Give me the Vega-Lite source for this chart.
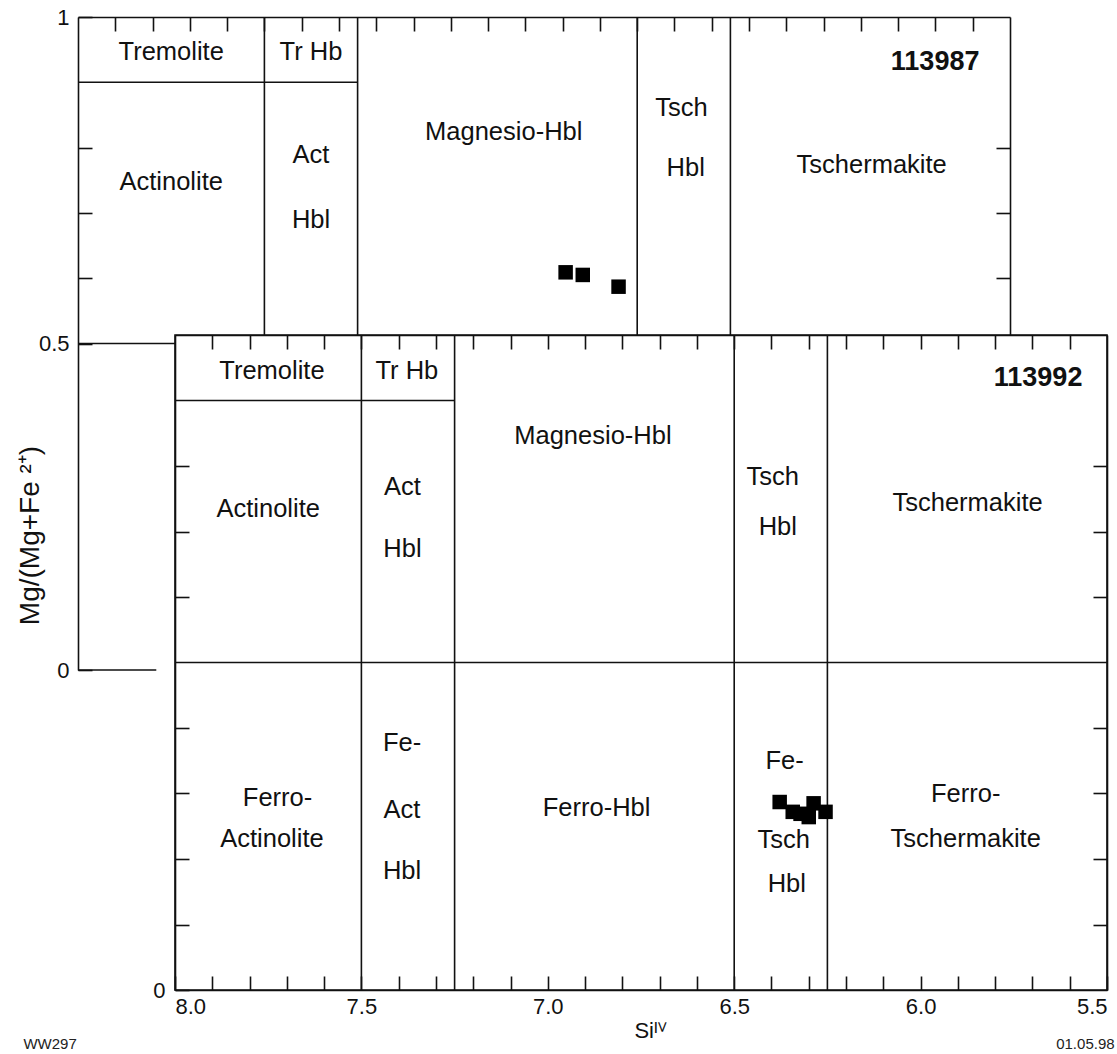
{
  "$schema": "https://vega.github.io/schema/vega-lite/v6.json",
  "width": 1029,
  "height": 973,
  "autosize": {"type": "none"},
  "padding": {"left": 78, "top": 17, "right": 10, "bottom": 64},
  "background": "white",
  "config": {
    "view": {"stroke": null},
    "font": "Liberation Sans",
    "axis": {
      "grid": false,
      "domainColor": "#111",
      "tickColor": "#111",
      "domainWidth": 1.6,
      "tickWidth": 1.6,
      "labelColor": "#111",
      "titleColor": "#111",
      "labelFont": "Liberation Sans",
      "titleFont": "Liberation Sans",
      "labelFontSize": 22,
      "titleFontSize": 22,
      "titleFontWeight": "normal",
      "tickSize": -14,
      "labelOverlap": false
    }
  },
  "datasets": {
    "backLines": [
      {"si": 8, "si2": 7.79, "mg": 0, "mg2": 0},
      {"si": 8, "si2": 7.25, "mg": 0.9, "mg2": 0.9},
      {"si": 8, "si2": 5.5, "mg": 0.5, "mg2": 0.5},
      {"si": 7.5, "si2": 7.5, "mg": 0, "mg2": 1},
      {"si": 7.25, "si2": 7.25, "mg": 0, "mg2": 1},
      {"si": 6.5, "si2": 6.5, "mg": 0, "mg2": 1},
      {"si": 6.25, "si2": 6.25, "mg": 0, "mg2": 1}
    ],
    "frontFrame": [{"si": 8, "si2": 5.5, "mg": 0, "mg2": 1}],
    "frontLines": [
      {"si": 8, "si2": 7.25, "mg": 0.9, "mg2": 0.9},
      {"si": 8, "si2": 5.5, "mg": 0.5, "mg2": 0.5},
      {"si": 7.5, "si2": 7.5, "mg": 0, "mg2": 1},
      {"si": 7.25, "si2": 7.25, "mg": 0, "mg2": 1},
      {"si": 6.5, "si2": 6.5, "mg": 0, "mg2": 1},
      {"si": 6.25, "si2": 6.25, "mg": 0, "mg2": 1}
    ],
    "backPts": [
      {"si": 6.692, "mg": 0.609},
      {"si": 6.646, "mg": 0.605},
      {"si": 6.55, "mg": 0.587}
    ],
    "frontPts": [
      {"si": 6.378, "mg": 0.287},
      {"si": 6.343, "mg": 0.272},
      {"si": 6.322, "mg": 0.269},
      {"si": 6.3, "mg": 0.264},
      {"si": 6.287, "mg": 0.285},
      {"si": 6.255, "mg": 0.272}
    ],
    "backText": [
      {"label": "Tremolite", "si": 7.75, "mg": 0.946},
      {"label": "Tr Hb", "si": 7.375, "mg": 0.946},
      {"label": "Actinolite", "si": 7.75, "mg": 0.747},
      {"label": "Act", "si": 7.375, "mg": 0.789},
      {"label": "Hbl", "si": 7.375, "mg": 0.689},
      {"label": "Magnesio-Hbl", "si": 6.858, "mg": 0.824},
      {"label": "Tsch", "si": 6.381, "mg": 0.861},
      {"label": "Hbl", "si": 6.37, "mg": 0.769},
      {"label": "Tschermakite", "si": 5.871, "mg": 0.773}
    ],
    "backSample": [{"label": "113987", "si": 5.582, "mg": 0.931}],
    "frontText": [
      {"label": "Tremolite", "si": 7.74, "mg": 0.945},
      {"label": "Tr Hb", "si": 7.378, "mg": 0.945},
      {"label": "Actinolite", "si": 7.75, "mg": 0.734},
      {"label": "Act", "si": 7.39, "mg": 0.768},
      {"label": "Hbl", "si": 7.39, "mg": 0.673},
      {"label": "Magnesio-Hbl", "si": 6.879, "mg": 0.846},
      {"label": "Tsch", "si": 6.397, "mg": 0.783},
      {"label": "Hbl", "si": 6.383, "mg": 0.707},
      {"label": "Tschermakite", "si": 5.874, "mg": 0.744},
      {"label": "Ferro-", "si": 7.725, "mg": 0.293},
      {"label": "Actinolite", "si": 7.74, "mg": 0.231},
      {"label": "Fe-", "si": 7.391, "mg": 0.377},
      {"label": "Act", "si": 7.391, "mg": 0.275},
      {"label": "Hbl", "si": 7.391, "mg": 0.182},
      {"label": "Ferro-Hbl", "si": 6.869, "mg": 0.278},
      {"label": "Fe-", "si": 6.365, "mg": 0.35},
      {"label": "Tsch", "si": 6.367, "mg": 0.229},
      {"label": "Hbl", "si": 6.359, "mg": 0.162},
      {"label": "Ferro-", "si": 5.879, "mg": 0.299},
      {"label": "Tschermakite", "si": 5.879, "mg": 0.231}
    ],
    "frontSample": [{"label": "113992", "si": 5.566, "mg": 0.934}],
    "notes": [
      {"label": "WW297", "si": 8.335, "mg": -0.083},
      {"label": "01.05.98", "si": 5.558, "mg": -0.083}
    ]
  },
  "layer": [
    {
      "data": {"name": "backLines"},
      "mark": {"type": "rule", "color": "#111", "strokeWidth": 1.6},
      "encoding": {
        "x": {"field": "si", "type": "quantitative",
          "scale": {"domain": [8, 5.5], "range": [0, 932], "nice": false, "zero": false},
          "axis": {"orient": "top", "values": [7.9,7.8,7.7,7.6,7.5,7.4,7.3,7.2,7.1,7.0,6.9,6.8,6.7,6.6,6.5,6.4,6.3,6.2,6.1,6.0,5.9,5.8,5.7,5.6], "labels": false, "title": null}},
        "x2": {"field": "si2"},
        "y": {"field": "mg", "type": "quantitative",
          "scale": {"domain": [0, 1], "range": [653, 0], "nice": false, "zero": false},
          "axis": {"orient": "left", "values": [0, 0.5, 0.6, 0.7, 0.8, 1],
            "labelExpr": "datum.value == 0 ? '0' : datum.value == 0.5 ? '0.5' : datum.value == 1 ? '1' : ''",
            "labelPadding": 23,
            "title": "Mg/(Mg+Fe ²⁺)", "titleFontSize": 28, "titleAngle": -90, "titleX": -34, "titleY": 518,
            "titleAlign": "center", "titleBaseline": "bottom"}},
        "y2": {"field": "mg2"}
      }
    },
    {
      "data": {"name": "backPts"},
      "mark": {"type": "square", "color": "#000", "filled": true, "opacity": 1, "size": 210},
      "encoding": {
        "x": {"field": "si", "type": "quantitative",
          "scale": {"domain": [8, 5.5], "range": [0, 932], "nice": false, "zero": false}, "axis": null},
        "y": {"field": "mg", "type": "quantitative",
          "scale": {"domain": [0, 1], "range": [653, 0], "nice": false, "zero": false},
          "axis": {"orient": "right", "offset": -97, "values": [0.6, 0.7, 0.8], "labels": false, "title": null}}
      }
    },
    {
      "data": {"name": "backText"},
      "mark": {"type": "text", "font": "Liberation Sans", "fontSize": 25.5, "color": "#111", "align": "center", "baseline": "middle"},
      "encoding": {
        "x": {"field": "si", "type": "quantitative",
          "scale": {"domain": [8, 5.5], "range": [0, 932], "nice": false, "zero": false}, "axis": null},
        "y": {"field": "mg", "type": "quantitative",
          "scale": {"domain": [0, 1], "range": [653, 0], "nice": false, "zero": false}, "axis": null},
        "text": {"field": "label"}
      }
    },
    {
      "data": {"name": "backSample"},
      "mark": {"type": "text", "font": "Liberation Sans", "fontSize": 27, "fontWeight": "bold", "color": "#111", "align": "right", "baseline": "middle"},
      "encoding": {
        "x": {"field": "si", "type": "quantitative",
          "scale": {"domain": [8, 5.5], "range": [0, 932], "nice": false, "zero": false}, "axis": null},
        "y": {"field": "mg", "type": "quantitative",
          "scale": {"domain": [0, 1], "range": [653, 0], "nice": false, "zero": false}, "axis": null},
        "text": {"field": "label"}
      }
    },
    {
      "data": {"name": "frontFrame"},
      "mark": {"type": "rect", "fill": "white", "stroke": "#111", "strokeWidth": 1.6},
      "encoding": {
        "x": {"field": "si", "type": "quantitative",
          "scale": {"domain": [8, 5.5], "range": [97, 1029], "nice": false, "zero": false}, "axis": null},
        "x2": {"field": "si2"},
        "y": {"field": "mg", "type": "quantitative",
          "scale": {"domain": [0, 1], "range": [973, 318], "nice": false, "zero": false}, "axis": null},
        "y2": {"field": "mg2"}
      }
    },
    {
      "data": {"name": "frontLines"},
      "mark": {"type": "rule", "color": "#111", "strokeWidth": 1.6},
      "encoding": {
        "x": {"field": "si", "type": "quantitative",
          "scale": {"domain": [8, 5.5], "range": [97, 1029], "nice": false, "zero": false},
          "axis": {"orient": "bottom", "zindex": 1,
            "values": [8.0,7.9,7.8,7.7,7.6,7.5,7.4,7.3,7.2,7.1,7.0,6.9,6.8,6.7,6.6,6.5,6.4,6.3,6.2,6.1,6.0,5.9,5.8,5.7,5.6,5.5],
            "labelExpr": "indexof(['8.0','7.5','7.0','6.5','6.0','5.5'], format(datum.value, '.1f')) >= 0 ? format(datum.value, '.1f') : ''",
            "labelPadding": 20, "labelFlush": true,
            "title": "Siᴵⱽ", "titleX": 572, "titleY": 30, "titleAlign": "center", "titleBaseline": "top"}},
        "x2": {"field": "si2"},
        "y": {"field": "mg", "type": "quantitative",
          "scale": {"domain": [0, 1], "range": [973, 318], "nice": false, "zero": false},
          "axis": {"orient": "left", "offset": -97, "zindex": 1,
            "values": [0, 0.1, 0.2, 0.3, 0.4, 0.6, 0.7, 0.8],
            "labelExpr": "datum.value == 0 ? '0' : ''", "labelPadding": 24, "title": null}},
        "y2": {"field": "mg2"}
      }
    },
    {
      "data": {"name": "frontPts"},
      "mark": {"type": "square", "color": "#000", "filled": true, "opacity": 1, "size": 210},
      "encoding": {
        "x": {"field": "si", "type": "quantitative",
          "scale": {"domain": [8, 5.5], "range": [97, 1029], "nice": false, "zero": false},
          "axis": {"orient": "top", "offset": -318, "zindex": 1,
            "values": [7.9,7.8,7.7,7.6,7.5,7.4,7.3,7.2,7.1,7.0,6.9,6.8,6.7,6.6,6.5,6.4,6.3,6.2,6.1,6.0,5.9,5.8,5.7,5.6],
            "labels": false, "title": null}},
        "y": {"field": "mg", "type": "quantitative",
          "scale": {"domain": [0, 1], "range": [973, 318], "nice": false, "zero": false},
          "axis": {"orient": "right", "zindex": 1, "values": [0.1, 0.2, 0.3, 0.4, 0.6, 0.7, 0.8], "labels": false, "title": null}}
      }
    },
    {
      "data": {"name": "frontText"},
      "mark": {"type": "text", "font": "Liberation Sans", "fontSize": 25.5, "color": "#111", "align": "center", "baseline": "middle"},
      "encoding": {
        "x": {"field": "si", "type": "quantitative",
          "scale": {"domain": [8, 5.5], "range": [97, 1029], "nice": false, "zero": false}, "axis": null},
        "y": {"field": "mg", "type": "quantitative",
          "scale": {"domain": [0, 1], "range": [973, 318], "nice": false, "zero": false}, "axis": null},
        "text": {"field": "label"}
      }
    },
    {
      "data": {"name": "frontSample"},
      "mark": {"type": "text", "font": "Liberation Sans", "fontSize": 27, "fontWeight": "bold", "color": "#111", "align": "right", "baseline": "middle"},
      "encoding": {
        "x": {"field": "si", "type": "quantitative",
          "scale": {"domain": [8, 5.5], "range": [97, 1029], "nice": false, "zero": false}, "axis": null},
        "y": {"field": "mg", "type": "quantitative",
          "scale": {"domain": [0, 1], "range": [973, 318], "nice": false, "zero": false}, "axis": null},
        "text": {"field": "label"}
      }
    },
    {
      "data": {"name": "notes"},
      "mark": {"type": "text", "font": "Liberation Sans", "fontSize": 15, "color": "#222", "align": "center", "baseline": "middle"},
      "encoding": {
        "x": {"field": "si", "type": "quantitative",
          "scale": {"domain": [8, 5.5], "range": [97, 1029], "nice": false, "zero": false}, "axis": null},
        "y": {"field": "mg", "type": "quantitative",
          "scale": {"domain": [0, 1], "range": [973, 318], "nice": false, "zero": false}, "axis": null},
        "text": {"field": "label"}
      }
    }
  ],
  "resolve": {"scale": {"x": "independent", "y": "independent"}}
}
